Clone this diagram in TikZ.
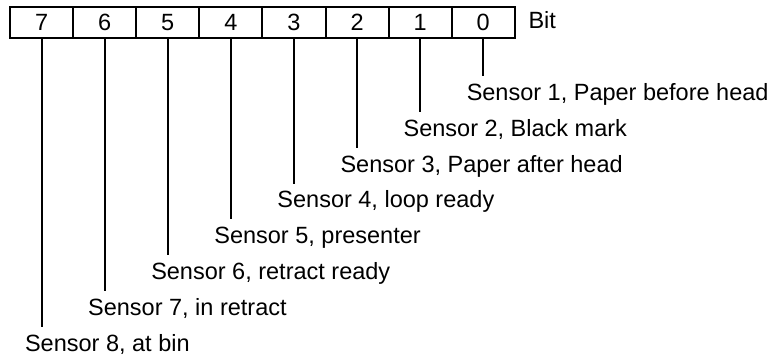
\documentclass[tikz,border=0pt]{standalone}
\usepackage{fontspec}
\setmainfont{Liberation Sans}
\begin{document}
\begin{tikzpicture}[x=1pt,y=1pt,line width=2pt,
  cell/.style={draw,minimum width=63.1pt,minimum height=31pt,inner sep=0pt,outer sep=0pt,font=\fontsize{23.5}{28}\selectfont},
  lbl/.style={anchor=base west,inner sep=0pt,font=\fontsize{23.5}{28}\selectfont}]
\useasboundingbox (0,0) rectangle (776,358);
\foreach \b [count=\i from 0] in {7,6,5,4,3,2,1,0}
  \node[cell] (c\b) at ({41.55+63.1*\i},335.5) {\b};
\node[lbl] (bit) at (527.5,329.1) {Bit};
\foreach \b/\t in {0/{Sensor 1, Paper before head},1/{Sensor 2, Black mark},2/{Sensor 3, Paper after head},3/{Sensor 4, loop ready},4/{Sensor 5, presenter},5/{Sensor 6, retract ready},6/{Sensor 7, in retract},7/{Sensor 8, at bin}}{
  \path (c\b.south) ++(-17.5pt,0) coordinate (tmp);
  \node[lbl] (l\b) at (tmp |- 0,{358-(100.4+35.86*\b)}) {\t};
  \draw (c\b.south) -- ([yshift=24.4pt] c\b.south |- l\b.base);
}
\end{tikzpicture}
\end{document}
